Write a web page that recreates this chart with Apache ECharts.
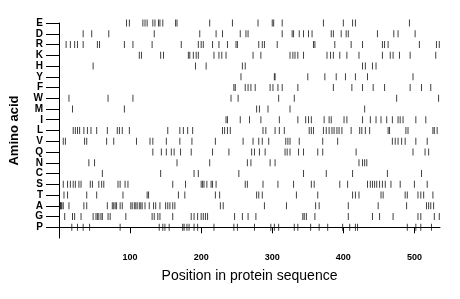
<!DOCTYPE html>
<html>
<head>
<meta charset="utf-8">
<script src="https://cdn.jsdelivr.net/npm/echarts@6/dist/echarts.min.js"></script>
<style>
  html, body { margin: 0; padding: 0; background: #fff; }
  #chart { width: 460px; height: 299px; }
</style>
</head>
<body>
<div id="chart"></div>
<script>
// amino acids, top row first
var aminoAcids = ["E", "D", "R", "K", "H", "Y", "F", "W", "M", "I", "L", "V", "Q", "N", "C", "S", "T", "A", "G", "P"];

// positions where each residue occurs
var posE = [95, 99, 118, 121, 124, 132, 135, 140, 142, 146, 164, 166, 212, 244, 280, 300, 302, 314, 372, 400, 413, 417, 493];
var posD = [34, 46, 70, 134, 198, 221, 230, 255, 263, 266, 314, 328, 330, 338, 344, 351, 356, 383, 386, 397, 404, 407, 448, 471, 477, 501];
var posR = [10, 16, 22, 26, 34, 54, 57, 92, 104, 131, 172, 196, 200, 203, 216, 225, 237, 249, 251, 281, 286, 289, 307, 358, 360, 388, 411, 427, 455, 458, 463, 507, 531, 535];
var posK = [113, 116, 143, 147, 182, 184, 189, 193, 196, 218, 225, 229, 235, 273, 284, 325, 329, 332, 336, 344, 377, 382, 386, 395, 405, 422, 455, 466, 470, 479, 494, 530];
var posH = [48, 192, 207, 258, 262, 427, 431, 441, 446];
var posY = [256, 303, 304, 350, 374, 390, 403, 417, 434, 498];
var posF = [246, 248, 262, 266, 270, 276, 297, 301, 308, 314, 336, 386, 412, 427, 442, 458, 494, 510, 523];
var posW = [14, 69, 104, 242, 252, 309, 331, 475, 534];
var posM = [19, 92, 278, 282, 294, 325, 430];
var posI = [235, 237, 255, 268, 284, 310, 336, 347, 351, 355, 373, 380, 383, 401, 405, 427, 438, 446, 453, 461, 469, 477, 480, 484, 502, 516];
var posL = [20, 23, 26, 29, 35, 40, 45, 53, 68, 82, 85, 89, 99, 153, 170, 175, 181, 188, 230, 233, 237, 241, 287, 291, 304, 310, 317, 352, 355, 358, 372, 376, 380, 384, 387, 391, 394, 398, 411, 423, 426, 431, 437, 463, 465, 488, 491, 526, 528, 532];
var posV = [6, 9, 36, 39, 67, 77, 109, 128, 132, 151, 170, 187, 220, 259, 273, 281, 286, 295, 319, 322, 325, 338, 371, 392, 469, 473, 477, 482, 487, 502, 518, 537];
var posQ = [132, 144, 151, 158, 162, 171, 186, 216, 239, 271, 275, 282, 290, 318, 321, 325, 337, 344, 364, 371, 418, 498, 515, 520];
var posN = [42, 50, 166, 212, 265, 270, 297, 304, 422, 427, 430, 433];
var posC = [61, 143, 190, 196, 253, 344, 376, 413, 462, 510];
var posS = [6, 12, 16, 20, 23, 28, 31, 44, 47, 56, 60, 63, 83, 86, 93, 97, 160, 178, 200, 202, 204, 208, 214, 216, 221, 262, 265, 287, 308, 330, 355, 359, 395, 406, 434, 438, 441, 444, 447, 451, 455, 459, 467, 480, 500, 518];
var posT = [7, 12, 39, 53, 90, 124, 126, 168, 177, 220, 226, 278, 281, 286, 334, 364, 413, 417, 422, 453, 456, 487, 490, 505, 509, 513, 526];
var posA = [1, 2, 3, 4, 6, 14, 35, 39, 68, 75, 77, 79, 81, 86, 89, 101, 103, 106, 108, 110, 113, 115, 117, 121, 127, 133, 136, 142, 150, 153, 156, 160, 163, 227, 231, 289, 320, 361, 366, 407, 449, 489, 517, 520, 523, 527];
var posG = [8, 19, 22, 31, 48, 52, 54, 56, 59, 61, 69, 72, 94, 131, 134, 139, 142, 160, 186, 190, 195, 200, 203, 206, 209, 247, 258, 266, 277, 343, 345, 348, 360, 407, 441, 451, 470, 505, 509, 528, 535];
var posP = [18, 26, 34, 43, 86, 141, 146, 149, 155, 174, 176, 180, 183, 190, 195, 218, 246, 251, 275, 298, 303, 309, 331, 336, 354, 366, 378, 399, 409, 417, 420, 490, 502, 509, 524];

var positionLists = [posE, posD, posR, posK, posH, posY, posF, posW, posM, posI, posL, posV, posQ, posN, posC, posS, posT, posA, posG, posP];

var xTicks = [100, 200, 300, 400, 500];
var seqLength = 536;

// row index 0 = bottom (P), 19 = top (E)
var rowIdx = [];
for (var i = 0; i < aminoAcids.length; i++) rowIdx.push(i);

var points = [];
positionLists.forEach(function (list, k) {
  var row = aminoAcids.length - 1 - k;
  list.forEach(function (p) {
    points.push([p, row]);
  });
});

var chart = echarts.init(document.getElementById("chart"));

chart.setOption({
  animation: false,
  backgroundColor: "#fff",
  textStyle: { fontFamily: "Liberation Sans" },
  grid: {
    left: 58,
    right: 20,
    top: 23,
    bottom: 61,
  },
  xAxis: {
    type: "value",
    min: 0,
    max: seqLength,
    name: "Position in protein sequence",
    nameLocation: "middle",
    nameGap: 31,
    nameTextStyle: { fontSize: 14, color: "#000" },
    axisLine: { lineStyle: { color: "#000", width: 1 } },
    axisTick: { length: 6, customValues: xTicks, lineStyle: { color: "#000" } },
    axisLabel: {
      customValues: xTicks,
      fontSize: 9,
      fontWeight: "bold",
      color: "#000",
      margin: 15,
    },
    splitLine: { show: false },
  },
  yAxis: {
    type: "value",
    min: -1,
    max: 19,
    interval: 1,
    name: "Amino acid",
    nameLocation: "middle",
    nameGap: 38,
    nameTextStyle: { fontSize: 13, fontWeight: "bold", color: "#000" },
    axisLine: { show: true, lineStyle: { color: "#000", width: 1 } },
    axisTick: { show: true, length: 13, customValues: rowIdx, lineStyle: { color: "#000" } },
    axisLabel: {
      customValues: rowIdx,
      fontSize: 10,
      fontWeight: "bold",
      color: "#000",
      margin: 16,
      formatter: function (v) {
        return aminoAcids[aminoAcids.length - 1 - v] || "";
      },
    },
    splitLine: { show: false },
  },
  series: [
    {
      type: "scatter",
      symbol: "rect",
      symbolSize: [1, 7],
      itemStyle: { color: "#111" },
      data: points,
    },
  ],
});
</script>
</body>
</html>
